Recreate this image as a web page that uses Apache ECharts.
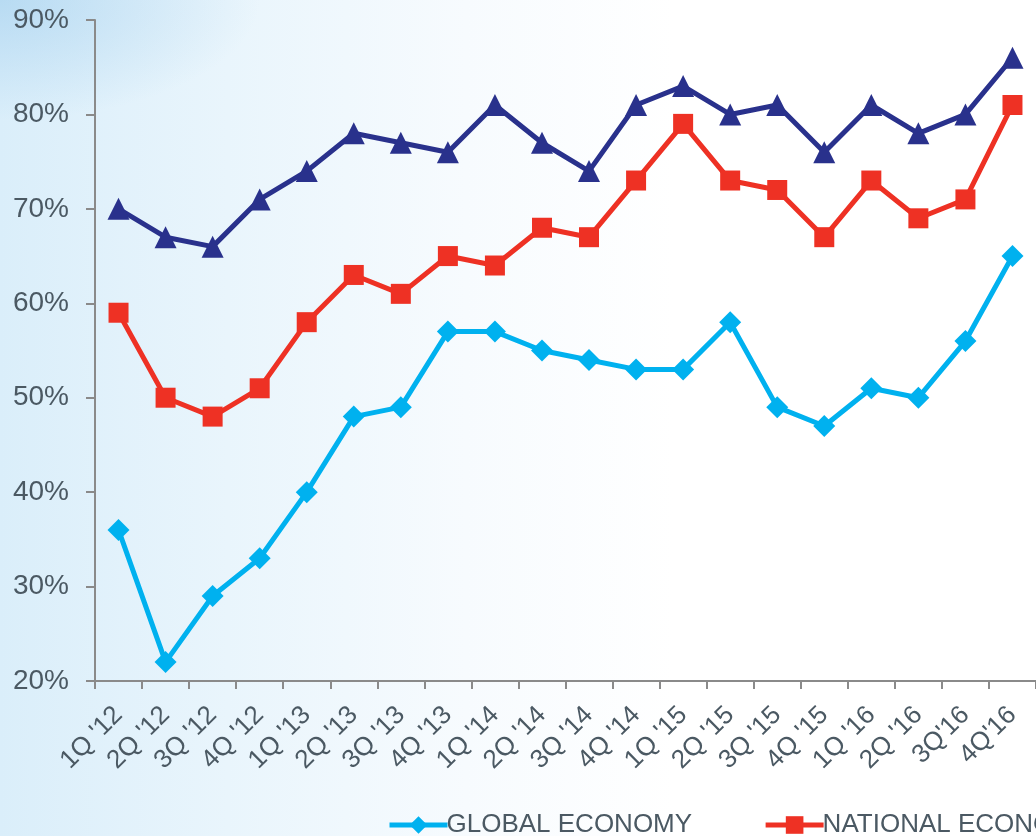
<!DOCTYPE html>
<html>
<head>
<meta charset="utf-8">
<script src="https://cdn.jsdelivr.net/npm/echarts@6/dist/echarts.min.js"></script>
<style>
  html, body { margin: 0; padding: 0; }
  body {
    width: 1036px; height: 836px; overflow: hidden;
    background:
      radial-gradient(ellipse 260px 120px at 0px 0px, rgba(150,200,235,0.5), rgba(150,200,235,0) 100%),
      linear-gradient(90deg, #daeefa 0%, #e9f5fc 22%, #f7fbfe 45%, #ffffff 65%);
  }
  #chart { width: 1036px; height: 836px; }
</style>
</head>
<body>
<div id="chart"></div>
<script>
// Quarterly survey results, 1Q '12 – 4Q '16 (percent)
const quarters = ["1Q '12","2Q '12","3Q '12","4Q '12","1Q '13","2Q '13","3Q '13","4Q '13",
                  "1Q '14","2Q '14","3Q '14","4Q '14","1Q '15","2Q '15","3Q '15","4Q '15",
                  "1Q '16","2Q '16","3Q'16","4Q'16"];
const companyValues  = [70, 67, 66, 71, 74, 78, 77, 76, 81, 77, 74, 81, 83, 80, 81, 76, 81, 78, 80, 86];
const nationalValues = [59, 50, 48, 51, 58, 63, 61, 65, 64, 68, 67, 73, 79, 73, 72, 67, 73, 69, 71, 81];
const globalValues   = [36, 22, 29, 33, 40, 48, 49, 57, 57, 55, 54, 53, 53, 58, 49, 47, 51, 50, 56, 65];
const legendNames = ['GLOBAL ECONOMY', 'NATIONAL ECONOMY'];

const textColor = '#4b5963';
const axisColor = '#8a8a8a';
const font = 'Liberation Sans, Arial, sans-serif';

const chart = echarts.init(document.getElementById('chart'), null, { renderer: 'canvas' });
chart.setOption({
  backgroundColor: 'transparent',
  animation: false,
  grid: { left: 95, right: -3, top: 20, bottom: 155, containLabel: false },
  legend: {
    data: legendNames,
    left: 382, top: 807,
    width: 2000,
    itemWidth: 58, itemHeight: 22, itemGap: 71,
    lineStyle: { width: 5 },
    textStyle: { color: textColor, fontSize: 26, fontFamily: font, padding: [0, 0, 0, -6] }
  },
  xAxis: {
    type: 'category',
    data: quarters,
    boundaryGap: true,
    axisLine: { lineStyle: { color: axisColor, width: 2 } },
    axisTick: { show: true, alignWithLabel: false, length: 8, lineStyle: { color: axisColor, width: 2 } },
    axisLabel: { rotate: 45, interval: 0, color: textColor, fontSize: 26, fontFamily: font, margin: 30 },
    splitLine: { show: false }
  },
  yAxis: {
    type: 'value',
    min: 20, max: 90, interval: 10,
    axisLine: { show: true, lineStyle: { color: axisColor, width: 2 } },
    axisTick: { show: true, length: 9, lineStyle: { color: axisColor, width: 2 } },
    axisLabel: { formatter: '{value}%', color: textColor, fontSize: 28, fontFamily: font, margin: 26 },
    splitLine: { show: false }
  },
  series: [
    {
      type: 'line', data: companyValues,
      symbol: 'triangle', symbolSize: 22,
      lineStyle: { color: '#29318c', width: 5 },
      itemStyle: { color: '#29318c' }
    },
    {
      name: 'NATIONAL ECONOMY', type: 'line', data: nationalValues,
      symbol: 'rect', symbolSize: 20,
      lineStyle: { color: '#ee3124', width: 5 },
      itemStyle: { color: '#ee3124' }
    },
    {
      name: 'GLOBAL ECONOMY', type: 'line', data: globalValues,
      symbol: 'diamond', symbolSize: 22,
      lineStyle: { color: '#00b1ef', width: 5 },
      itemStyle: { color: '#00b1ef' }
    }
  ]
});
</script>
</body>
</html>
